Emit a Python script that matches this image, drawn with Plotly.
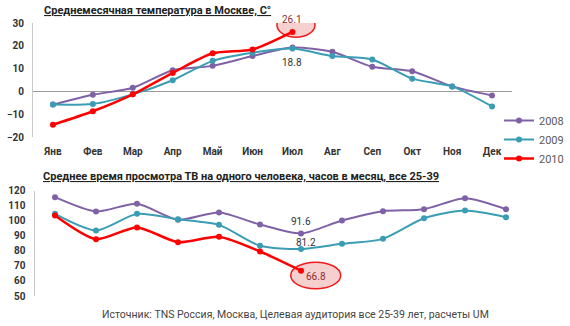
import plotly.graph_objects as go

months = ["Янв", "Фев", "Мар", "Апр", "Май", "Июн", "Июл", "Авг", "Сеп", "Окт", "Ноя", "Дек"]

temp_2008 = [-5.8, -1.5, 1.6, 9.3, 11.2, 15.5, 19.2, 17.4, 10.8, 8.8, 2.2, -1.8]
temp_2009 = [-5.8, -5.5, -1.3, 4.9, 13.4, 17.0, 18.8, 15.5, 14.0, 5.6, 2.2, -6.6]
temp_2010 = [-14.6, -8.7, -1.3, 8.1, 16.7, 18.4, 26.1]

tv_2008 = [115.7, 106.2, 111.3, 100.7, 105.5, 97.5, 91.6, 100.2, 106.4, 107.7, 115.0, 107.7]
tv_2009 = [104.6, 93.6, 104.6, 101.0, 97.3, 83.4, 81.2, 84.7, 88.0, 101.7, 106.8, 102.4]
tv_2010 = [103.5, 87.8, 95.6, 85.8, 89.4, 79.6, 66.8]

series_names = ["2008", "2009", "2010"]
colors = ["#7f62a5", "#3a9db4", "#ff0000"]
widths = [2, 2, 2.5]

title_top = "Среднемесячная температура в Москве, С°"
title_bottom = "Среднее время просмотра ТВ на одного человека, часов в месяц, все 25-39"
source_text = "Источник: TNS Россия, Москва, Целевая аудитория все 25-39 лет, расчеты UM"

FONT = "Roboto"
W, H = 570, 326

fig = go.Figure()

for name, vals, c, w in zip(series_names, [temp_2008, temp_2009, temp_2010], colors, widths):
    fig.add_trace(go.Scatter(
        x=months[:len(vals)], y=vals, name=name, mode="lines+markers",
        line=dict(color=c, width=w, shape="spline", smoothing=0.7),
        marker=dict(color=c, size=6), xaxis="x", yaxis="y",
    ))

for name, vals, c, w in zip(series_names, [tv_2008, tv_2009, tv_2010], colors, widths):
    fig.add_trace(go.Scatter(
        x=months[:len(vals)], y=vals, name=name, mode="lines+markers",
        line=dict(color=c, width=w, shape="spline", smoothing=0.7),
        marker=dict(color=c, size=6), xaxis="x2", yaxis="y2", showlegend=False,
    ))

def px_x(p):
    return p / W

def px_y(p):
    return 1 - p / H

fig.update_layout(
    width=W, height=H,
    margin=dict(l=0, r=0, t=0, b=0, autoexpand=False),
    paper_bgcolor="white", plot_bgcolor="white",
    font=dict(family=FONT, size=10, color="#333333"),
    xaxis=dict(
        domain=[px_x(33), px_x(512)], range=[-0.5, 11.5], type="category",
        categoryorder="array", categoryarray=months,
        showline=False, showgrid=False, zeroline=False,
        ticks="outside", ticklen=5, tickcolor="rgba(0,0,0,0)",
        tickfont=dict(family=FONT, size=10, color="#333333", weight="bold"),
        anchor="y", automargin=False,
    ),
    yaxis=dict(
        domain=[px_y(137), px_y(23)], range=[-20, 30], dtick=10,
        showline=True, linecolor="#c8c8c8", linewidth=1,
        showgrid=False, zeroline=True, zerolinecolor="#9a9a9a", zerolinewidth=1,
        ticks="outside", ticklen=6, tickcolor="rgba(0,0,0,0)",
        tickfont=dict(family=FONT, size=10, color="#333333", weight="bold"),
        anchor="x", automargin=False,
    ),
    xaxis2=dict(
        domain=[px_x(34.5), px_x(526.5)], range=[-0.5, 11.5], type="category",
        categoryorder="array", categoryarray=months,
        showline=False, showgrid=False, zeroline=False, showticklabels=False,
        anchor="y2", automargin=False,
    ),
    yaxis2=dict(
        domain=[px_y(296), px_y(190.7)], range=[50, 120], dtick=10,
        showline=True, linecolor="#c8c8c8", linewidth=1,
        showgrid=False, zeroline=False,
        ticks="outside", ticklen=6, tickcolor="rgba(0,0,0,0)",
        tickfont=dict(family=FONT, size=10, color="#333333", weight="bold"),
        anchor="x2", automargin=False,
    ),
    legend=dict(
        x=px_x(499), y=px_y(106), xanchor="left", yanchor="top",
        font=dict(family=FONT, size=11, color="#595959"),
        bgcolor="rgba(0,0,0,0)", tracegroupgap=0,
    ),
    showlegend=True,
)

# callout ellipses
fig.add_shape(type="circle", xref="x", yref="y", xsizemode="pixel", ysizemode="pixel",
              xanchor=months[6], yanchor=temp_2010[6], x0=-15.5, x1=22.5, y0=-5.3, y1=19.3,
              line=dict(color="#ee1c1c", width=1.5), fillcolor="rgba(240,175,175,0.6)", layer="below")
fig.add_shape(type="circle", xref="x2", yref="y2", xsizemode="pixel", ysizemode="pixel",
              xanchor=months[6], yanchor=tv_2010[6], x0=-10.3, x1=39.7, y0=-18, y1=8.6,
              line=dict(color="#ee1c1c", width=1.5), fillcolor="rgba(240,175,175,0.6)", layer="below")

lab_font = dict(family=FONT, size=10, color="#333333")
red_font = dict(family=FONT, size=10, color="#8b3030")
fig.add_annotation(x=months[6], y=temp_2010[6], xref="x", yref="y", text=f"{temp_2010[6]}",
                   showarrow=False, yshift=12, font=red_font)
fig.add_annotation(x=months[6], y=temp_2009[6], xref="x", yref="y", text=f"{temp_2009[6]}",
                   showarrow=False, yshift=-14, font=lab_font)
fig.add_annotation(x=months[6], y=tv_2008[6], xref="x2", yref="y2", text=f"{tv_2008[6]}",
                   showarrow=False, yshift=12, font=lab_font)
fig.add_annotation(x=months[6], y=tv_2009[6], xref="x2", yref="y2", text=f"{tv_2009[6]}",
                   showarrow=False, yshift=7, xshift=5, font=lab_font)
fig.add_annotation(x=months[6], y=tv_2010[6], xref="x2", yref="y2", text=f"{tv_2010[6]}",
                   showarrow=False, yshift=-6, xshift=15, font=red_font)

# titles and source
fig.add_annotation(x=px_x(157), y=px_y(10), xref="paper", yref="paper", xanchor="center", yanchor="middle",
                   text=f"<b><u>{title_top}</u></b>",
                   showarrow=False, font=dict(family=FONT, size=11, color="#222222"))
fig.add_annotation(x=px_x(241), y=px_y(176), xref="paper", yref="paper", xanchor="center", yanchor="middle",
                   text=f"<b><u>{title_bottom}</u></b>",
                   showarrow=False, font=dict(family=FONT, size=11, color="#222222"))
fig.add_annotation(x=px_x(296), y=px_y(314), xref="paper", yref="paper", xanchor="center", yanchor="middle",
                   text=source_text,
                   showarrow=False, font=dict(family=FONT, size=10.5, color="#444444"))

fig.write_html("out.html")
